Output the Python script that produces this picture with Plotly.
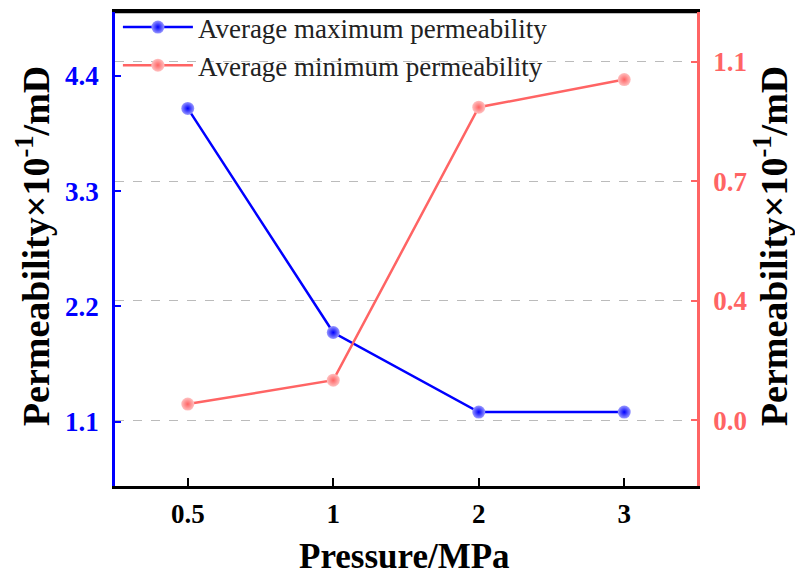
import plotly.graph_objects as go

pressure = ["0.5", "1", "2", "3"]
avg_max = [4.09, 1.95, 1.19, 1.19]
avg_min = [0.047, 0.117, 0.917, 0.998]

left_ticks = [1.1, 2.2, 3.3, 4.4]
left_ticktext = ["1.1", "2.2", "3.3", "4.4"]
right_ticks = [0.0, 0.35, 0.70, 1.05]
right_ticktext = ["0.0", "0.4", "0.7", "1.1"]

x_title = "Pressure/MPa"
y_title = "Permeability×10<sup>-1</sup>/mD"

BLUE = "#0000FF"
RED = "#FF6464"
FONT = "Liberation Serif"

fig = go.Figure()
fig.add_trace(go.Scatter(
    x=pressure, y=avg_max, name="Average maximum permeability",
    mode="lines+markers",
    line=dict(color=BLUE, width=2.5),
    marker=dict(symbol="circle", size=13, color="#9999ff",
                gradient=dict(type="radial", color=BLUE)),
    yaxis="y"))
fig.add_trace(go.Scatter(
    x=pressure, y=avg_min, name="Average minimum permeability",
    mode="lines+markers",
    line=dict(color=RED, width=2.5),
    marker=dict(symbol="circle", size=13, color="#ffc0c0",
                gradient=dict(type="radial", color=RED)),
    yaxis="y2"))

fig.update_layout(
    width=795, height=577,
    margin=dict(l=115, r=98, t=12, b=91, autoexpand=False),
    paper_bgcolor="white", plot_bgcolor="white",
    font=dict(family=FONT, color="black"),
    showlegend=True,
    legend=dict(x=0.005, y=1.019, xanchor="left", yanchor="top",
                bgcolor="rgba(0,0,0,0)", borderwidth=0,
                font=dict(family=FONT, size=27, color="#222"),
                itemwidth=70, tracegroupgap=0),
    xaxis=dict(
        type="category", range=[-0.5, 3.5], automargin=False,
        showline=True, linecolor="black", linewidth=2.5, mirror=True,
        ticks="inside", ticklen=8, tickwidth=2, tickcolor="black",
        tickfont=dict(family=FONT, size=27, color="black", weight="bold"),
        ticklabelstandoff=2,
        showgrid=False, zeroline=False,
    ),
    yaxis=dict(
        range=[0.484, 5.011], automargin=False,
        tickvals=left_ticks, ticktext=left_ticktext,
        showline=True, linecolor=BLUE, linewidth=2.5,
        ticks="inside", ticklen=6, tickwidth=2, tickcolor=BLUE,
        tickfont=dict(family=FONT, size=27, color=BLUE, weight="bold"),
        ticklabelstandoff=8,
        showgrid=False, zeroline=False,
    ),
    yaxis2=dict(
        range=[-0.193, 1.196], overlaying="y", side="right", automargin=False,
        tickvals=right_ticks, ticktext=right_ticktext,
        showline=True, linecolor=RED, linewidth=2.5,
        ticks="inside", ticklen=6, tickwidth=2, tickcolor=RED,
        tickfont=dict(family=FONT, size=27, color=RED, weight="bold"),
        ticklabelstandoff=8,
        showgrid=True, gridcolor="#BBBBBB", griddash="dash", gridwidth=1.3,
        zeroline=False,
    ),
    shapes=[dict(type="line", xref="paper", yref="paper", x0=0, x1=1, y0=1, y1=1,
                 line=dict(color="black", width=2.5), layer="above")],
    annotations=[
        dict(text="<b>" + x_title + "</b>", xref="paper", yref="paper",
             x=0.498, y=-0.148, xanchor="center", yanchor="middle",
             showarrow=False, font=dict(family=FONT, size=35, color="black")),
        dict(text="<b>" + y_title + "</b>", xref="paper", yref="paper",
             x=-0.1409, y=0.506, xanchor="center", yanchor="middle", textangle=-90,
             showarrow=False, font=dict(family=FONT, size=38, color="black")),
        dict(text="<b>" + y_title + "</b>", xref="paper", yref="paper",
             x=1.1271, y=0.506, xanchor="center", yanchor="middle", textangle=-90,
             showarrow=False, font=dict(family=FONT, size=38, color="black")),
    ],
)

fig.write_html("out.html", config={"displayModeBar": False},
               post_script="document.body.style.margin='0';document.body.style.overflow='hidden';")
